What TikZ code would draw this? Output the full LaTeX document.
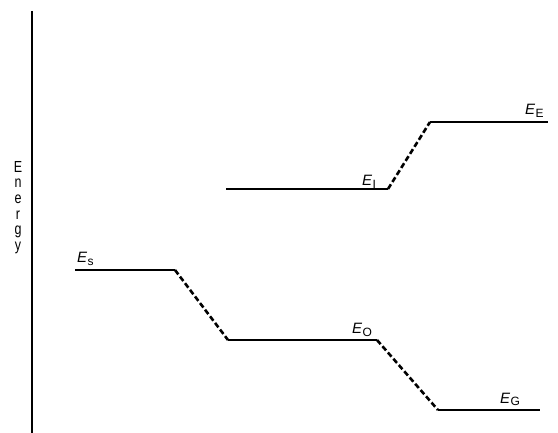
\documentclass[tikz,border=0pt]{standalone}
\usepackage{fontspec}
\setmainfont{Liberation Sans}
\newfontfamily\narrowsans[FakeStretch=0.78]{Liberation Sans}
\begin{document}
\begin{tikzpicture}[x=1pt,y=-1pt,
  lvl/.style={line width=1.9pt},
  trans/.style={line width=2.6pt, dash pattern=on 5.5pt off 2.8pt},
  lab/.style={font=\fontsize{15}{17}\selectfont, inner sep=0pt, anchor=base west},
  axis/.style={line width=1.3pt}]
\useasboundingbox (0,0) rectangle (558,433);
% axis
\coordinate (at) at (32,11);
\coordinate (ab) at (32,433);
\draw[axis] (at) -- (ab);
\node[font=\narrowsans\fontsize{16}{15.6}\selectfont, align=center, inner sep=0pt, anchor=north] (energy) at (18,161) {E\\n\\e\\r\\g\\y};
% levels
\coordinate (s1) at (75,270); \coordinate (s2) at (175,270);
\coordinate (o1) at (228,340); \coordinate (o2) at (377,340);
\coordinate (g1) at (438,410); \coordinate (g2) at (540,410);
\coordinate (i1) at (226,189); \coordinate (i2) at (388,189);
\coordinate (e1) at (430,122); \coordinate (e2) at (548,122);
\draw[lvl] (s1) -- (s2);
\draw[lvl] (o1) -- (o2);
\draw[lvl] (g1) -- (g2);
\draw[lvl] (i1) -- (i2);
\draw[lvl] (e1) -- (e2);
\draw[trans] (s2) -- (o1);
\draw[trans] (o2) -- (g1);
\draw[trans] (i2) -- (e1);
% labels
\newcommand{\lvlab}[1]{\textit{E}\kern0.3pt{\fontsize{12}{13}\selectfont\raisebox{-2.5pt}{#1}}}
\node[lab] (ls) at (77,263) {\lvlab{s}};
\node[lab] (li) at (362,186) {\lvlab{I}};
\node[lab] (lo) at (352,334) {\lvlab{O}};
\node[lab] (lg) at (500,403) {\lvlab{G}};
\node[lab] (le) at (525,115) {\lvlab{E}};
\end{tikzpicture}
\end{document}
